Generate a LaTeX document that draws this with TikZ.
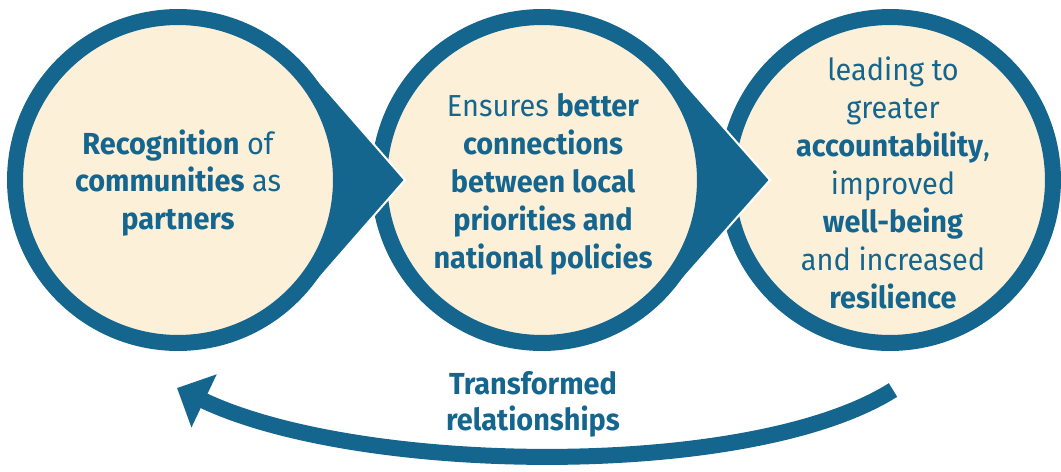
\documentclass[tikz,border=0pt]{standalone}
\usepackage{fontspec}
\setmainfont{Fira Sans}[FakeStretch=0.95]
\usetikzlibrary{arrows.meta}
\definecolor{tblue}{HTML}{15668F}
\definecolor{cream}{HTML}{FDF0D9}
\begin{document}
\begin{tikzpicture}
        [x=0.02cm, y=-0.02cm,
         ring_style/.style={circle,draw=tblue,fill=cream,line width=0.32cm,minimum size=6.52cm,inner sep=0pt},
         tip_style/.style={fill=tblue,draw=white,line width=0.04cm,line join=miter},
         text_style/.style={text=tblue,align=center,font=\fontsize{17.3}{21.6}\selectfont},
         loop_style/.style={draw=tblue,line width=0.32cm,-{Triangle[length=0.6cm,width=1.14cm]}}]
            \useasboundingbox (0,0) rectangle (1061,471);
            \coordinate (o1) at (178,180);
            \coordinate (o2) at (542,180);
            \coordinate (o3) at (890,180);
            \coordinate (p1) at (405,180);
            \coordinate (p2) at (770,180);
            % circles, back to front
            \node[ring_style] (c3) at (o3) {};
            \filldraw[tip_style] (o2) ++(41.1:171) -- (p2) -- ([shift={(-41.1:171)}]o2) -- cycle;
            \node[ring_style] (c2) at (o2) {};
            \filldraw[tip_style] (o1) ++(41.1:171) -- (p1) -- ([shift={(-41.1:171)}]o1) -- cycle;
            \node[ring_style] (c1) at (o1) {};
            % texts
            \node[text_style] (t1) at (178,183) {\textbf{Recognition} of\\\textbf{communities} as\\\textbf{partners}};
            \node[text_style] (t2) at (543,184) {Ensures \textbf{better}\\\textbf{connections}\\\textbf{between local}\\\textbf{priorities and}\\\textbf{national policies}};
            \node[text_style] (t3) at (893,183) {leading to\\greater\\\textbf{accountability},\\improved\\\textbf{well-being}\\and increased\\\textbf{resilience}};
            % loop back
            \coordinate (tail) at (893,390);
            \coordinate (head) at (177,388);
            \draw[loop_style] (tail) .. controls (750,480) and (360,475) .. (head);
            \node[text_style,font=\bfseries\fontsize{17.3}{20.5}\selectfont] (t4) at (533,404) {Transformed\\relationships};
\end{tikzpicture}
\end{document}
